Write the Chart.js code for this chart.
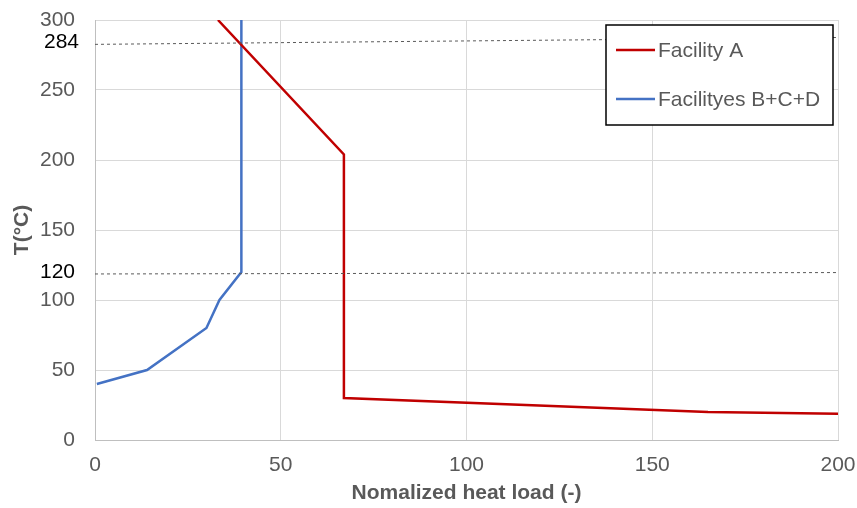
<!DOCTYPE html>
<html>
<head>
<meta charset="utf-8">
<script src="https://cdn.jsdelivr.net/npm/chart.js@4"></script>
<style>
  html, body { margin: 0; padding: 0; background: #fff; }
  #wrap { width: 857px; height: 508px; position: relative; }
</style>
</head>
<body>
<div id="wrap"><canvas id="heatChart"></canvas></div>
<script>
// values
const facilityA_x = [33.1, 67, 67, 165, 200];
const facilityA_y = [300, 204, 30, 20, 18.8];

const facilityBCD_x = [0.5, 14, 30, 33.5, 39.4, 39.4];
const facilityBCD_y = [40, 50, 80, 100, 120, 300];

const ref284_x = [0, 200];
const ref284_y = [282.6, 287.5];
const ref120_x = [0, 200];
const ref120_y = [118.6, 119.6];

const refLabels = [{ text: '284', value: 284, right: 79 }, { text: '120', value: 120, right: 75 }];

const xTicks = [0, 50, 100, 150, 200];
const yTicks = [0, 50, 100, 150, 200, 250, 300];

const seriesNames = ['Facility A', 'Facilityes B+C+D'];
const seriesColors = ['#C00000', '#4472C4'];

const pts = (xs, ys) => xs.map((x, i) => ({ x: x, y: ys[i] }));
const FONT = "'Liberation Sans', Arial, sans-serif";

// black labels for the dashed reference lines + boxed legend
const extras = {
  id: 'extras',
  afterDraw(chart) {
    const c = chart.ctx;
    const y = chart.scales.y;
    c.save();
    c.font = '21px ' + FONT;
    c.fillStyle = '#000';
    c.textAlign = 'right';
    c.textBaseline = 'middle';
    refLabels.forEach(l => c.fillText(l.text, l.right, y.getPixelForValue(l.value)));

    // legend box
    c.fillStyle = '#fff';
    c.fillRect(606, 25, 227, 100);
    c.strokeStyle = '#000';
    c.lineWidth = 1.5;
    c.strokeRect(606, 25, 227, 100);
    c.textAlign = 'left';
    const rows = [50, 99];
    rows.forEach((ry, i) => {
      c.strokeStyle = seriesColors[i];
      c.lineWidth = 2.5;
      c.beginPath();
      c.moveTo(616, ry);
      c.lineTo(655, ry);
      c.stroke();
      c.fillStyle = '#595959';
      c.fillText(seriesNames[i], 658, ry + 1);
    });
    c.restore();
  }
};

const ctx = document.getElementById('heatChart').getContext('2d');

new Chart(ctx, {
  type: 'scatter',
  data: {
    datasets: [
      { label: 'ref284', data: pts(ref284_x, ref284_y), showLine: true, borderColor: '#595959', borderWidth: 1, borderDash: [3, 3], pointRadius: 0 },
      { label: 'ref120', data: pts(ref120_x, ref120_y), showLine: true, borderColor: '#595959', borderWidth: 1, borderDash: [3, 3], pointRadius: 0 },
      { label: seriesNames[0], data: pts(facilityA_x, facilityA_y), showLine: true, borderColor: seriesColors[0], borderWidth: 2.5, pointRadius: 0 },
      { label: seriesNames[1], data: pts(facilityBCD_x, facilityBCD_y), showLine: true, borderColor: seriesColors[1], borderWidth: 2.5, pointRadius: 0 }
    ]
  },
  options: {
    responsive: true,
    maintainAspectRatio: false,
    animation: false,
    layout: { padding: { left: 0, top: 20, right: 19, bottom: 0 } },
    plugins: {
      legend: { display: false },
      tooltip: { enabled: false }
    },
    scales: {
      x: {
        type: 'linear',
        min: 0, max: 200,
        afterBuildTicks: s => { s.ticks = xTicks.map(v => ({ value: v })); },
        afterFit: s => { s.height = 68; s.paddingLeft = 0; s.paddingRight = 0; },
        grid: { color: '#d9d9d9', drawTicks: false },
        border: { color: '#bfbfbf' },
        ticks: { color: '#595959', padding: 13, font: { family: FONT, size: 21 } },
        title: { display: true, text: 'Nomalized heat load (-)', color: '#595959', padding: { top: 0, bottom: 2 }, font: { family: FONT, size: 21, weight: 'bold' } }
      },
      y: {
        type: 'linear',
        min: 0, max: 300,
        afterBuildTicks: s => { s.ticks = yTicks.map(v => ({ value: v })); },
        afterFit: s => { s.width = 95; s.paddingTop = 0; s.paddingBottom = 0; },
        grid: { color: '#d9d9d9', drawTicks: false },
        border: { color: '#bfbfbf' },
        ticks: { color: '#595959', padding: 20, font: { family: FONT, size: 21 } },
        title: { display: true, text: 'T(°C)', color: '#595959', padding: { top: 10, bottom: 0 }, font: { family: FONT, size: 21, weight: 'bold' } }
      }
    }
  },
  plugins: [extras]
});
</script>
</body>
</html>
